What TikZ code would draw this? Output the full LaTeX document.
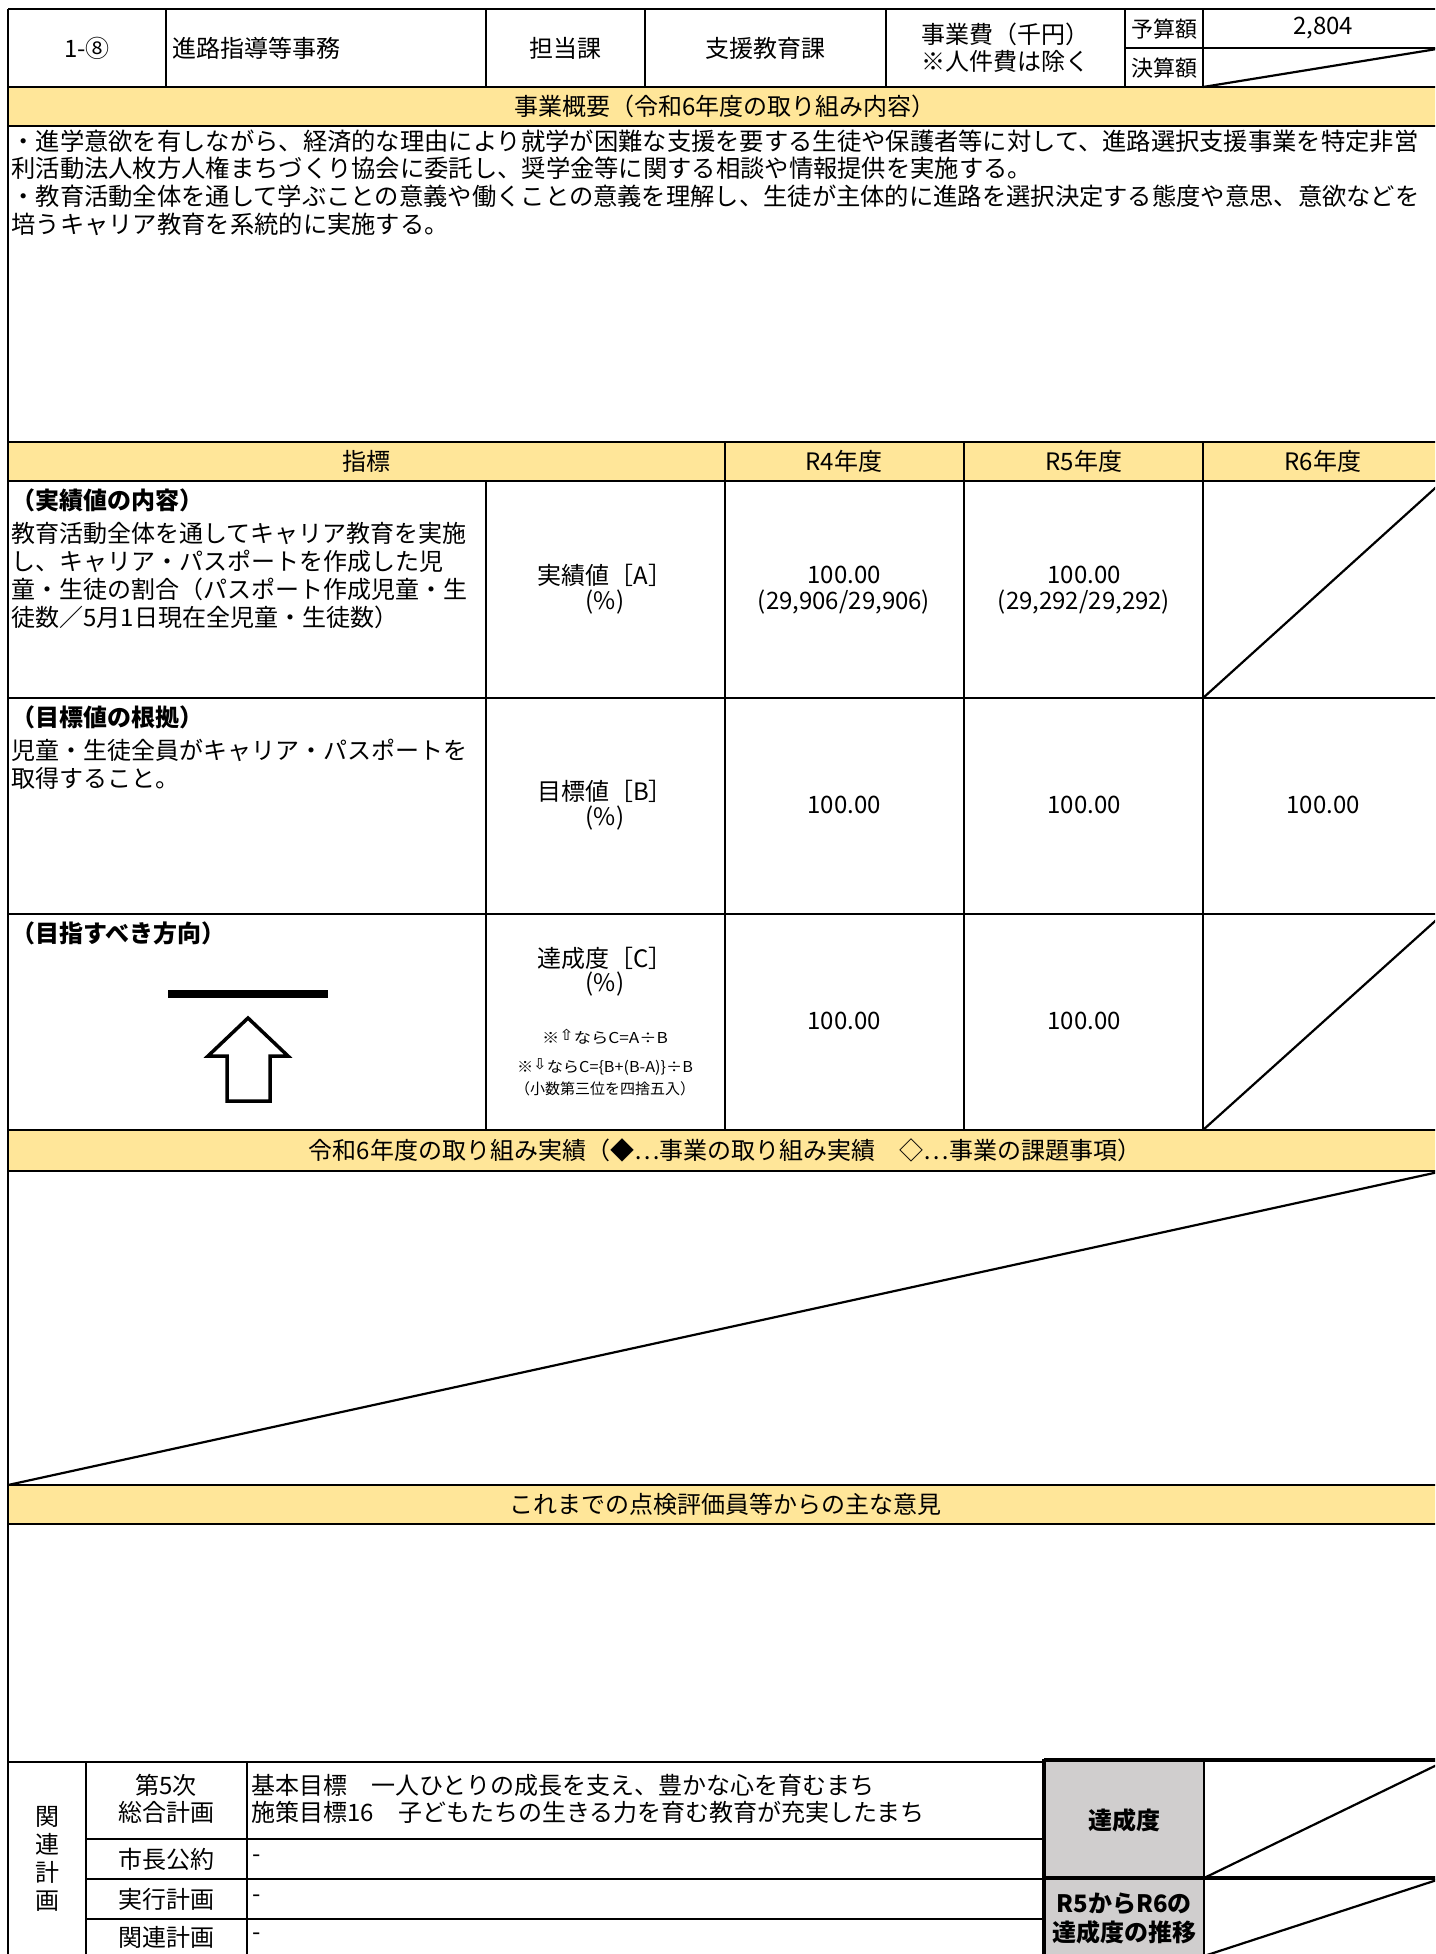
\documentclass[tikz,border=0pt]{standalone}
\usepackage{fontspec}
\setmainfont{Noto Sans CJK JP}
\newfontfamily\dejavu{DejaVu Sans}
\definecolor{bandy}{HTML}{FFE699}
\definecolor{grayc}{HTML}{D0CECE}
\newcommand\fsA{\fontsize{12pt}{14pt}\selectfont}
\newcommand\fsL{\fontsize{12.15pt}{14pt}\selectfont}
\newcommand\fsB{\fontsize{11pt}{13pt}\selectfont}
\newcommand\fsS{\fontsize{7.5pt}{9pt}\selectfont}
\newcommand\arrU{{\dejavu\fontsize{7.5pt}{8pt}\selectfont\raisebox{0.35ex}{⇧}}}
\newcommand\arrD{{\dejavu\fontsize{7.5pt}{8pt}\selectfont\raisebox{0.35ex}{⇩}}}
\begin{document}
\begin{tikzpicture}[x=0.5pt,y=-0.5pt,
  ln/.style={line width=1.1pt},
  thk/.style={line width=1.4pt},
  thn/.style={line width=0.6pt},
  hvy/.style={line width=2pt},
  txt/.style={inner sep=0pt,font=\fsA},
  lt/.style={txt,anchor=west},
  st/.style={inner sep=0pt,anchor=west,font=\fsL},
  bt/.style={inner sep=0pt,anchor=west,font=\fsA\bfseries},
  ct/.style={inner sep=0pt,font=\fsA\bfseries},
  sm/.style={inner sep=0pt,font=\fsS}]
\useasboundingbox (0,0) rectangle (1435,1954);
\fill[white] (0,0) rectangle (1435,1954);
\begin{scope}
\clip (0,0) rectangle (1435,1954);
% fills
\fill[bandy] (8,87) rectangle (1443,126);
\fill[bandy] (8,442) rectangle (1443,481);
\fill[bandy] (8,1130) rectangle (1443,1171);
\fill[bandy] (8,1485) rectangle (1443,1524);
\fill[grayc] (1044,1762) rectangle (1204,1960);
% header
\draw[thk] (8,9) -- (1443,9);
\draw[ln] (1125,48) -- (1443,48);
\draw[thk] (8,87) -- (1443,87);
\foreach \c in {166,486,645,886,1125,1203} \draw[ln] (\c,9) -- (\c,87);
\draw[ln] (1203,87) -- (1443,48);
% bands and rows
\draw[thk] (8,126) -- (1443,126);
\draw[thk] (8,442) -- (1443,442);
\draw[thk] (8,481) -- (1443,481);
\foreach \c in {725,964,1203} \draw[thk] (\c,442) -- (\c,1130);
\draw[thk] (486,481) -- (486,1130);
\draw[thn] (8,698) -- (486,698);
\draw[ln] (486,698) -- (1443,698);
\draw[thn] (8,914) -- (486,914);
\draw[ln] (486,914) -- (1443,914);
\draw[ln] (1203,698) -- (1443,481);
\draw[ln] (1203,1130) -- (1443,914);
\draw[thk] (8,1130) -- (1443,1130);
\draw[thk] (8,1171) -- (1443,1171);
\draw[ln] (8,1485) -- (1443,1171);
\draw[thk] (8,1485) -- (1443,1485);
\draw[thk] (8,1524) -- (1443,1524);
% bottom section
\draw[thk] (8,1762) -- (1044,1762);
\draw[thk] (86,1839) -- (1044,1839);
\draw[thk] (86,1879) -- (1044,1879);
\draw[thk] (86,1919) -- (1044,1919);
\draw[thk] (86,1762) -- (86,1960);
\draw[thk] (247,1762) -- (247,1960);
\draw[ln] (1204,1762) -- (1204,1960);
\draw[ln] (1204,1878) -- (1443,1762);
\draw[ln] (1204,1956) -- (1443,1878);
\draw[hvy] (1044,1760) -- (1443,1760);
\draw[hvy] (1044,1878) -- (1443,1878);
\draw[hvy] (1044,1759) -- (1044,1960);
% left border
\draw[ln] (8,9) -- (8,1960);
% direction marks
\fill[black] (168,990) rectangle (328,998);
\draw[line width=1.75pt,line join=miter] (248,1018) -- (288,1056) -- (270,1056) -- (270,1101) -- (227,1101) -- (227,1056) -- (208,1056) -- cycle;
\end{scope}
% header texts
\node[txt] (no) at (87,48) {1-⑧};
\node[lt] (name) at (172,48) {進路指導等事務};
\node[txt] (tanto) at (565,48) {担当課};
\node[txt] (ka) at (765,48) {支援教育課};
\node[txt] (jig1) at (1005,34) {事業費（千円）};
\node[txt] (jig2) at (1005,61) {※人件費は除く};
\node[txt,font=\fsB] (yosan) at (1164,29) {予算額};
\node[txt,font=\fsB] (kessan) at (1164,68) {決算額};
\node[txt] (yv) at (1323,28) {2,804};
% band 1
\node[txt] (b1) at (725,106) {事業概要（令和6年度の取り組み内容）};
\node[st] (s1) at (11,141) {・進学意欲を有しながら、経済的な理由により就学が困難な支援を要する生徒や保護者等に対して、進路選択支援事業を特定非営};
\node[st] (s2) at (11,168) {利活動法人枚方人権まちづくり協会に委託し、奨学金等に関する相談や情報提供を実施する。};
\node[st] (s3) at (11,196) {・教育活動全体を通して学ぶことの意義や働くことの意義を理解し、生徒が主体的に進路を選択決定する態度や意思、意欲などを};
\node[st] (s4) at (11,224) {培うキャリア教育を系統的に実施する。};
% band 2
\node[txt] (h0) at (366,461) {指標};
\node[txt] (h4) at (844,461) {R4年度};
\node[txt] (h5) at (1084,461) {R5年度};
\node[txt] (h6) at (1323,461) {R6年度};
% row 1
\node[bt] (r1h) at (11,500) {（実績値の内容）};
\node[lt] (r1a) at (11,533) {教育活動全体を通してキャリア教育を実施};
\node[lt] (r1b) at (11,561) {し、キャリア・パスポートを作成した児};
\node[lt] (r1c) at (11,589) {童・生徒の割合（パスポート作成児童・生};
\node[lt] (r1d) at (11,617) {徒数／5月1日現在全児童・生徒数）};
\node[txt] (r1k) at (605,575) {実績値［A］};
\node[txt] (r1p) at (605,602) {(\%)};
\node[txt] (r1v4) at (844,575) {100.00};
\node[txt] (r1w4) at (844,602) {(29,906/29,906)};
\node[txt] (r1v5) at (1084,575) {100.00};
\node[txt] (r1w5) at (1084,602) {(29,292/29,292)};
% row 2
\node[bt] (r2h) at (11,717) {（目標値の根拠）};
\node[lt] (r2a) at (11,750) {児童・生徒全員がキャリア・パスポートを};
\node[lt] (r2b) at (11,778) {取得すること。};
\node[txt] (r2k) at (605,791) {目標値［B］};
\node[txt] (r2p) at (605,818) {(\%)};
\node[txt] (r2v4) at (844,805) {100.00};
\node[txt] (r2v5) at (1084,805) {100.00};
\node[txt] (r2v6) at (1323,805) {100.00};
% row 3
\node[bt] (r3h) at (11,933) {（目指すべき方向）};
\node[txt] (r3k) at (605,958) {達成度［C］};
\node[txt] (r3p) at (605,984) {(\%)};
\node[sm] (n1) at (605,1037) {\scalebox{1.15}[1]{※\arrU ならC=A÷B}};
\node[sm] (n2) at (605,1067) {\scalebox{1.08}[1]{※\arrD ならC=\{B+(B-A)\}÷B}};
\node[sm] (n3) at (605,1089) {（小数第三位を四捨五入）};
\node[txt] (r3v4) at (844,1021) {100.00};
\node[txt] (r3v5) at (1084,1021) {100.00};
% band 3, 4
\node[txt] (b3) at (725,1150) {令和6年度の取り組み実績（◆…事業の取り組み実績　◇…事業の課題事項）};
\node[txt] (b4) at (725,1504) {これまでの点検評価員等からの主な意見};
% bottom
\node[txt,align=center] (kk) at (47,1859) {関\\連\\計\\画};
\node[txt] (p1a) at (166,1785) {第5次};
\node[txt] (p1b) at (166,1812) {総合計画};
\node[lt] (p1c) at (251,1785) {基本目標　一人ひとりの成長を支え、豊かな心を育むまち};
\node[lt] (p1d) at (251,1812) {施策目標16　子どもたちの生きる力を育む教育が充実したまち};
\node[txt] (p2) at (166,1859) {市長公約};
\node[lt] (p2v) at (252,1859) {-};
\node[txt] (p3) at (166,1899) {実行計画};
\node[lt] (p3v) at (252,1899) {-};
\node[txt] (p4) at (166,1937) {関連計画};
\node[lt] (p4v) at (252,1937) {-};
\node[ct] (tas) at (1124,1820) {達成度};
\node[ct] (sui1) at (1124,1904) {R5からR6の};
\node[ct] (sui2) at (1124,1932) {達成度の推移};
\end{tikzpicture}
\end{document}
